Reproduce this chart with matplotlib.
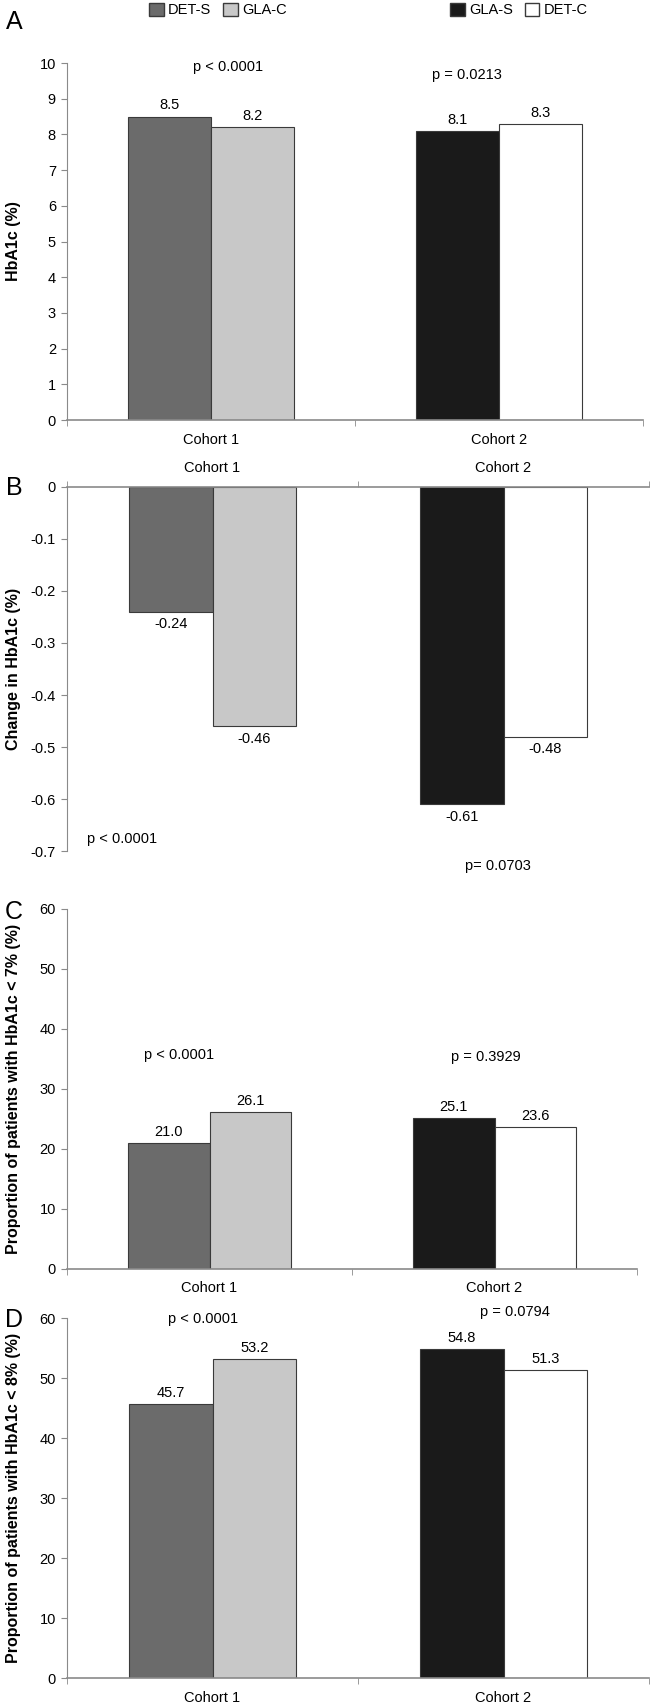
import matplotlib
matplotlib.use("Agg")
import matplotlib.pyplot as plt
from matplotlib.patches import Patch

# ---- data ----
cohorts = ["Cohort 1", "Cohort 2"]
series_names = ["DET-S", "GLA-C", "GLA-S", "DET-C"]

hba1c = [8.5, 8.2, 8.1, 8.3]
hba1c_change = [-0.24, -0.46, -0.61, -0.48]
prop_lt7 = [21.0, 26.1, 25.1, 23.6]
prop_lt8 = [45.7, 53.2, 54.8, 51.3]

pvals_a = ["p < 0.0001", "p = 0.0213"]
pvals_b = ["p < 0.0001", "p= 0.0703"]
pvals_c = ["p < 0.0001", "p = 0.3929"]
pvals_d = ["p < 0.0001", "p = 0.0794"]

ylabels = [
    "HbA1c (%)",
    "Change in HbA1c (%)",
    "Proportion of patients with HbA1c < 7% (%)",
    "Proportion of patients with HbA1c < 8% (%)",
]

colors = ["#6b6b6b", "#c8c8c8", "#1a1a1a", "#ffffff"]
edge = "#3a3a3a"
axis_gray = "#8a8a8a"

FONT = ["Liberation Sans Narrow", "Liberation Sans", "DejaVu Sans"]
plt.rcParams["font.family"] = FONT
plt.rcParams["font.size"] = 10

W, H = 655, 1707
fig = plt.figure(figsize=(W / 100, H / 100), dpi=100)


def rect(left, top, right, bottom):
    return [left / W, 1 - bottom / H, (right - left) / W, (bottom - top) / H]


def make_panel(box, values, ylim, yticks, fmt, ylabel, pvals, ptext_pos, top_axis=False):
    ax = fig.add_axes(rect(*box))
    bw = 0.287
    xs = [0 - bw / 2, 0 + bw / 2, 1 - bw / 2, 1 + bw / 2]
    ax.bar(xs, values, bw, color=colors, edgecolor=edge, linewidth=0.8)
    ax.set_xlim(-0.5, 1.5)
    ax.set_ylim(*ylim)
    ax.set_yticks(yticks)
    ax.set_yticklabels([fmt(t) for t in yticks])

    for s in ["top", "right", "bottom", "left"]:
        ax.spines[s].set_visible(False)
    ax.spines["left"].set_visible(True)
    ax.spines["left"].set_color(axis_gray)
    xside = "top" if top_axis else "bottom"
    ax.spines[xside].set_visible(True)
    ax.spines[xside].set_color(axis_gray)
    ax.spines[xside].set_linewidth(1.2)

    ax.set_xticks([0, 1])
    ax.set_xticklabels(cohorts)
    ax.set_xticks([-0.5, 0.5, 1.5], minor=True)
    if top_axis:
        ax.xaxis.tick_top()
    ax.tick_params(axis="x", which="major", length=0, pad=9, labelsize=10.5)
    ax.tick_params(axis="x", which="minor", length=4, color=axis_gray, direction="out")
    ax.tick_params(axis="y", length=4, color=axis_gray, pad=4, labelsize=10.5)

    ax.set_ylabel(ylabel, family=["Liberation Sans", "DejaVu Sans"],
                  fontweight="bold", fontsize=11.5)
    ax.yaxis.set_label_coords(-46 / (box[2] - box[0]), 0.5)

    for x, v in zip(xs, values):
        if v >= 0:
            label = f"{v:.1f}"
            ax.annotate(label, (x, v), xytext=(0, 3), textcoords="offset points",
                        ha="center", va="bottom", fontsize=10.5)
        else:
            ax.annotate(f"{v:.2f}", (x, v), xytext=(0, -4), textcoords="offset points",
                        ha="center", va="top", fontsize=10.5)

    for txt, (px, py) in zip(pvals, ptext_pos):
        ax.text(px, py, txt, ha="center", va="center", fontsize=10.5, clip_on=False)
    return ax


make_panel((67, 63, 643, 420), hba1c, (0, 10), list(range(0, 11)),
           lambda t: f"{t:g}", ylabels[0], pvals_a, [(0.06, 9.88), (0.89, 9.66)])

make_panel((67, 487, 649, 851), hba1c_change, (-0.7, 0),
           [0, -0.1, -0.2, -0.3, -0.4, -0.5, -0.6, -0.7],
           lambda t: "0" if t == 0 else f"{t:.1f}", ylabels[1], pvals_b,
           [(-0.31, -0.677), (0.98, -0.729)], top_axis=True)

make_panel((67, 909, 637, 1269), prop_lt7, (0, 60), list(range(0, 61, 10)),
           lambda t: f"{t:g}", ylabels[2], pvals_c, [(-0.107, 35.7), (0.97, 35.3)])

make_panel((67, 1318, 649, 1678), prop_lt8, (0, 60), list(range(0, 61, 10)),
           lambda t: f"{t:g}", ylabels[3], pvals_d, [(-0.033, 59.8), (1.04, 61.0)])

# panel letters
for letter, ypx in zip("ABCD", [22, 488, 912, 1320]):
    fig.text(14 / W, 1 - ypx / H, letter, fontsize=18, ha="center", va="center")

# legends
leg1 = [Patch(facecolor=colors[0], edgecolor=edge, label=series_names[0]),
        Patch(facecolor=colors[1], edgecolor=edge, label=series_names[1])]
leg2 = [Patch(facecolor=colors[2], edgecolor=edge, label=series_names[2]),
        Patch(facecolor=colors[3], edgecolor=edge, label=series_names[3])]
for handles, xc in [(leg1, 218), (leg2, 519)]:
    fig.legend(handles=handles, loc="center", bbox_to_anchor=(xc / W, 1 - 10 / H),
               ncol=2, frameon=False, fontsize=10.5, handlelength=1.0,
               handleheight=1.0, handletextpad=0.3, columnspacing=0.8,
               borderpad=0, borderaxespad=0)

fig.savefig("out.png", dpi=100)
